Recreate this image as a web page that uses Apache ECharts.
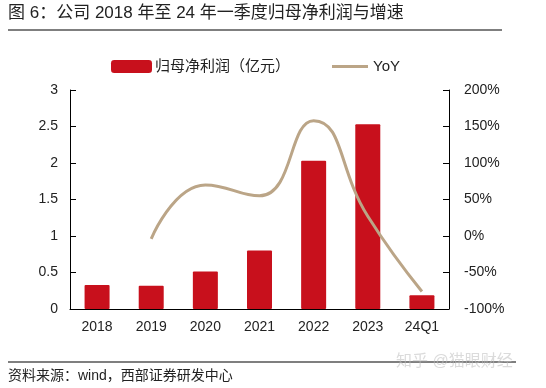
<!DOCTYPE html>
<html><head><meta charset="utf-8">
<script src="https://cdn.jsdelivr.net/npm/echarts@6/dist/echarts.min.js"></script>
<style>html,body{margin:0;padding:0;background:#fff}#c{width:546px;height:388px}</style>
</head><body><div id="c"></div>
<script>
const categories = ['2018','2019','2020','2021','2022','2023','24Q1'];
const profit = [0.33, 0.32, 0.515, 0.80, 2.03, 2.53, 0.19];
const yoy = [null, -4, 70, 55, 158, 27, -76];
const leftTicks = [0, 0.5, 1, 1.5, 2, 2.5, 3];
const rightTicks = [-100, -50, 0, 50, 100, 150, 200];
const titleText = '图 6：公司 2018 年至 24 年一季度归母净利润与增速';
const sourceText = '资料来源：wind，西部证券研发中心';
const watermark = '知乎 @猫眼财经';
const font = '"Liberation Sans", Arial, "Noto Sans CJK SC", sans-serif';
const chart = echarts.init(document.getElementById('c'));
chart.setOption({
  animation: false,
  textStyle: {fontFamily: font},
  grid: {left: 70, right: 97, top: 90, bottom: 79},
  legend: [{
    top: 54, left: 106, itemWidth: 41, itemHeight: 13, itemGap: 4,
    textStyle: {fontSize: 15, color: '#222', fontFamily: font, padding: [0, 0, 0, -2]},
    data: [{name: '归母净利润（亿元）', icon: 'roundRect'}]
  }, {
    top: 54, left: 327, itemWidth: 36, itemHeight: 3, itemGap: 4,
    textStyle: {fontSize: 15, color: '#222', fontFamily: font},
    data: [{name: 'YoY', icon: 'rect'}]
  }],
  xAxis: {
    type: 'category', data: categories, boundaryGap: true,
    axisLine: {lineStyle: {color: '#000', width: 1}},
    axisTick: {inside: true, length: 6, lineStyle: {color: '#000'}},
    axisLabel: {color: '#222', fontSize: 14, margin: 11}
  },
  yAxis: [{
    type: 'value', min: 0, max: 3, interval: 0.5,
    axisLine: {show: true, lineStyle: {color: '#000'}},
    axisTick: {show: true, inside: true, length: 6, lineStyle: {color: '#000'}},
    splitLine: {show: false},
    axisLabel: {color: '#222', fontSize: 14, margin: 12}
  }, {
    type: 'value', min: -100, max: 200, interval: 50, position: 'right',
    axisLine: {show: true, lineStyle: {color: '#000'}},
    axisTick: {show: true, inside: true, length: 6, lineStyle: {color: '#000'}},
    splitLine: {show: false},
    axisLabel: {color: '#222', fontSize: 14, margin: 15, formatter: '{value}%'}
  }],
  series: [{
    name: '归母净利润（亿元）', type: 'bar', data: profit, barWidth: 25,
    itemStyle: {color: '#c8101c', borderRadius: 1}
  }, {
    name: 'YoY', type: 'line', yAxisIndex: 1, data: yoy, smooth: 0.5,
    showSymbol: false, symbol: 'none', connectNulls: false,
    lineStyle: {color: '#bba587', width: 3}, itemStyle: {color: '#bba587'}
  }],
  graphic: [
    {type: 'text', left: 8, top: 5, style: {text: titleText, font: '17px ' + font, fill: '#222'}},
    {type: 'line', shape: {x1: 8, y1: 30, x2: 502, y2: 30}, style: {stroke: '#000', lineWidth: 1.2}},
    {type: 'line', shape: {x1: 8, y1: 362, x2: 516, y2: 362}, style: {stroke: '#000', lineWidth: 1.2}},
    {type: 'text', left: 8, top: 369, style: {text: sourceText, font: '14px ' + font, fill: '#222'}},
    {type: 'text', left: 396, top: 354, style: {text: watermark, font: '16px ' + font, fill: 'rgba(190,190,190,0.55)'}}
  ]
});
</script></body></html>
